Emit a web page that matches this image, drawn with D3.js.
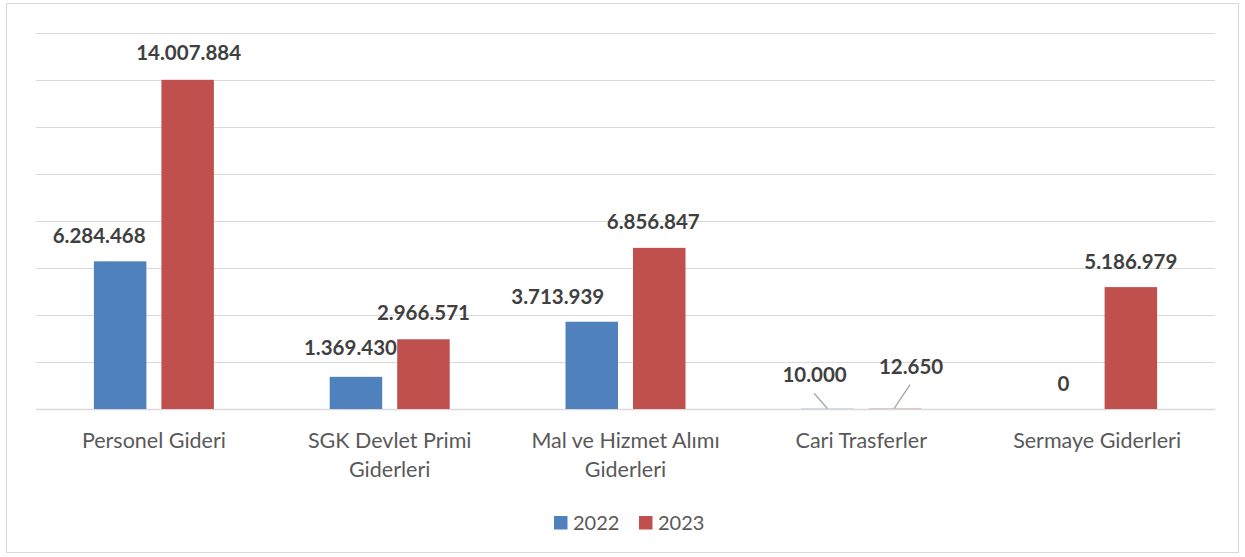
<!DOCTYPE html>
<html><head><meta charset="utf-8">
<script src="https://cdn.jsdelivr.net/npm/d3@7"></script>
<style>body{margin:0;background:#fff}svg{display:block}</style>
</head><body>
<svg id="c" width="1245" height="557"></svg>
<script>
const categories = [["Personel Gideri"], ["SGK Devlet Primi", "Giderleri"], ["Mal ve Hizmet Alımı", "Giderleri"], ["Cari Trasferler"], ["Sermaye Giderleri"]];
const series = ["2022", "2023"];
const values2022 = [6284468, 1369430, 3713939, 10000, 0];
const values2023 = [14007884, 2966571, 6856847, 12650, 5186979];
const yTicks = [0, 2000000, 4000000, 6000000, 8000000, 10000000, 12000000, 14000000, 16000000];
const colors = ["#4F81BD", "#C0504D"];
// label nudges (px) relative to default position above bar: [dx, dy]
const labelNudge2022 = [[-21, 0], [-5.5, -3.5], [-34, 1], [-13, -8], [0, 0]];
const labelNudge2023 = [[1, -1], [0, -1], [-6, 0], [16, -16], [0, 0]];

(function () {
const svg = d3.select("#c");
const fmt = v => d3.format(",")(v).replace(/,/g, ".");
svg.append("rect").attr("x", 6.5).attr("y", 3.5).attr("width", 1232).attr("height", 549)
  .attr("fill", "#fff").attr("stroke", "#d9d9d9");

const mLeft = 36, mRight = 1215, mTop = 33, mBottom = 409;
const x = d3.scaleBand().domain(d3.range(categories.length)).range([mLeft, mRight]);
const y = d3.scaleLinear().domain([0, 16000000]).range([mBottom, mTop]);
const barW = 52.5, gap = 15;
const off = [-(gap / 2 + barW / 2), gap / 2 + barW / 2];
const font = "Lato, 'Open Sans', sans-serif";

svg.append("g").selectAll("line").data(yTicks).join("line")
  .attr("x1", mLeft).attr("x2", mRight)
  .attr("y1", d => Math.round(y(d)) + 0.5).attr("y2", d => Math.round(y(d)) + 0.5)
  .attr("stroke", "#d9d9d9").attr("stroke-width", d => d === 0 ? 1.5 : 1);

const all = [values2022, values2023];
const nudges = [labelNudge2022, labelNudge2023];
all.forEach((vals, s) => {
  const g = svg.append("g");
  g.selectAll("rect").data(vals).join("rect")
    .attr("x", (d, i) => x(i) + x.bandwidth() / 2 + off[s] - barW / 2)
    .attr("width", barW)
    .attr("y", d => y(d)).attr("height", d => y(0) - y(d))
    .attr("fill", colors[s]);
  g.selectAll("text").data(vals).join("text")
    .attr("x", (d, i) => x(i) + x.bandwidth() / 2 + off[s] + nudges[s][i][0])
    .attr("y", (d, i) => y(d) - 18.5 + nudges[s][i][1])
    .attr("text-anchor", "middle")
    .attr("font-family", font).attr("font-weight", "bold")
    .attr("font-size", 20.5).attr("fill", "#404040")
    .text(d => fmt(d));
});

// leader lines for small values (Cari Trasferler)
const ci = 3;
const cx = x(ci) + x.bandwidth() / 2;
svg.append("line").attr("x1", cx + off[0] - 13.5).attr("y1", y(values2022[ci]) - 15.5)
  .attr("x2", cx + off[0]).attr("y2", y(values2022[ci]))
  .attr("stroke", "#a6a6a6").attr("stroke-width", 1.3);
svg.append("line").attr("x1", cx + off[1] + 15).attr("y1", y(values2023[ci]) - 24)
  .attr("x2", cx + off[1] - 1).attr("y2", y(values2023[ci]))
  .attr("stroke", "#a6a6a6").attr("stroke-width", 1.3);

// category labels
const cat = svg.append("g").attr("font-family", font).attr("font-size", 21.5).attr("fill", "#595959");
categories.forEach((lines, i) => {
  const t = cat.append("text").attr("text-anchor", "middle")
    .attr("x", x(i) + x.bandwidth() / 2).attr("y", 447.5);
  lines.forEach((l, k) => t.append("tspan").attr("x", x(i) + x.bandwidth() / 2).attr("dy", k ? 29 : 0).text(l));
});

// legend
const lg = svg.append("g").attr("font-family", font).attr("font-size", 20).attr("fill", "#595959");
const legX = [554, 639];
series.forEach((s, i) => {
  lg.append("rect").attr("x", legX[i]).attr("y", 516).attr("width", 13.5).attr("height", 13.5).attr("fill", colors[i]);
  lg.append("text").attr("x", legX[i] + 19).attr("y", 529.5).text(s);
});
})();
</script>
</body></html>
